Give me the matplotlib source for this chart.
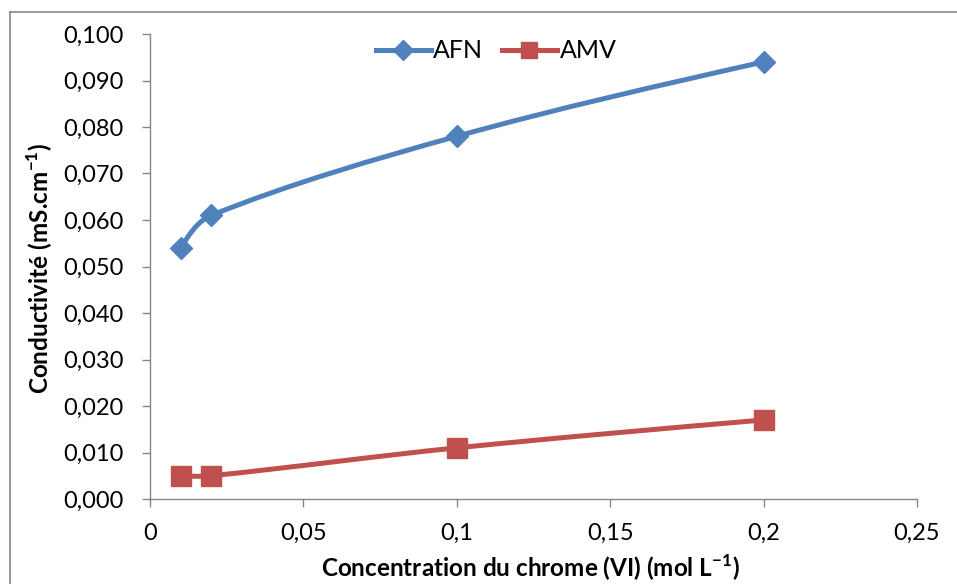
import numpy as np
import matplotlib.pyplot as plt
from matplotlib.path import Path
from matplotlib.patches import PathPatch
from matplotlib.lines import Line2D

plt.rcParams['font.family'] = ['Lato', 'DejaVu Sans']
plt.rcParams['mathtext.fontset'] = 'custom'
plt.rcParams['mathtext.rm'] = 'Lato'
plt.rcParams['mathtext.bf'] = 'Lato:bold'

# data
concentration = [0.01, 0.02, 0.1, 0.2]
afn = [0.054, 0.061, 0.078, 0.094]
amv = [0.005, 0.005, 0.011, 0.017]
x_ticks = [0, 0.05, 0.1, 0.15, 0.2, 0.25]
y_ticks = [0.0, 0.01, 0.02, 0.03, 0.04, 0.05, 0.06, 0.07, 0.08, 0.09, 0.1]

blue = '#4F81BD'
red = '#C0504D'
grey = '#868686'


def smooth_path(ax, x, y):
    # Excel-like smoothed line, built in screen space with chord-length tangents
    pts = ax.transData.transform(np.column_stack([x, y]))
    n = len(pts)
    d = np.linalg.norm(np.diff(pts, axis=0), axis=1)
    m = np.zeros_like(pts)
    for i in range(1, n - 1):
        m[i] = (pts[i + 1] - pts[i - 1]) / (d[i - 1] + d[i])
    verts = [pts[0]]
    codes = [Path.MOVETO]
    for i in range(n - 1):
        p0, p1 = pts[i], pts[i + 1]
        c1 = p0 + m[i] * d[i] / 3 if i > 0 else None
        c2 = p1 - m[i + 1] * d[i] / 3 if i < n - 2 else None
        if c1 is None and c2 is None:
            c1 = p0 + (p1 - p0) / 3
            c2 = p1 - (p1 - p0) / 3
        elif c1 is None:
            c1 = p0 + (c2 - p0) / 2
        elif c2 is None:
            c2 = p1 + (c1 - p1) / 2
        verts += [c1, c2, p1]
        codes += [Path.CURVE4] * 3
    verts = ax.transData.inverted().transform(np.array(verts))
    return Path(verts, codes)


fig = plt.figure(figsize=(9.57, 5.84), dpi=100)
ax = fig.add_axes([150 / 957, 1 - 499 / 584, (917 - 150) / 957, (499 - 34) / 584])
ax.set_xlim(0, 0.25)
ax.set_ylim(0, 0.1)

ax.add_patch(PathPatch(smooth_path(ax, concentration, afn), fill=False,
                       edgecolor=blue, lw=3.6, capstyle='round', zorder=3))
ax.add_patch(PathPatch(smooth_path(ax, concentration, amv), fill=False,
                       edgecolor=red, lw=3.6, capstyle='round', zorder=3))
ax.plot(concentration, afn, ls='none', marker='D', ms=11, color=blue, zorder=4)
ax.plot(concentration, amv, ls='none', marker='s', ms=14, color=red, zorder=4)

ax.set_xticks(x_ticks)
ax.set_yticks(y_ticks)
ax.set_xticklabels([('%g' % v).replace('.', ',') for v in x_ticks])
ax.set_yticklabels([('%.3f' % v).replace('.', ',') for v in y_ticks])
ax.tick_params(axis='both', direction='out', length=6, width=1, color=grey,
               labelsize=17)
ax.tick_params(axis='y', pad=13)
ax.tick_params(axis='x', pad=11)

for s in ['top', 'right']:
    ax.spines[s].set_visible(False)
for s in ['left', 'bottom']:
    ax.spines[s].set_color(grey)
    ax.spines[s].set_linewidth(1)

fig.text(530 / 957, 1 - 568 / 584, r'Concentration du chrome (VI) (mol L$^{\mathbf{-1}}$)',
         ha='center', va='center', fontsize=17.5, fontweight='bold')
fig.text(40 / 957, 1 - 268 / 584, r'Conductivité (mS.cm$^{\mathbf{-1}}$)',
         ha='center', va='center', fontsize=17.5, fontweight='bold', rotation=90)

handles = [
    Line2D([], [], color=blue, lw=3.6, marker='D', ms=10),
    Line2D([], [], color=red, lw=3.6, marker='s', ms=11),
]
fig.legend(handles, ['AFN', 'AMV'], loc='center', bbox_to_anchor=(496 / 957, 1 - 51 / 584),
           ncol=2, frameon=False, fontsize=18, handlelength=2.2, handletextpad=0.1,
           columnspacing=0.75)

# chart border
fig.add_artist(Line2D([10 / 957, 10 / 957], [0, 1 - 12 / 584], color=grey, lw=1.2,
                      transform=fig.transFigure))
fig.add_artist(Line2D([10 / 957, 1], [1 - 12 / 584, 1 - 12 / 584], color=grey, lw=1.2,
                      transform=fig.transFigure))

fig.savefig('out.png', dpi=100)
